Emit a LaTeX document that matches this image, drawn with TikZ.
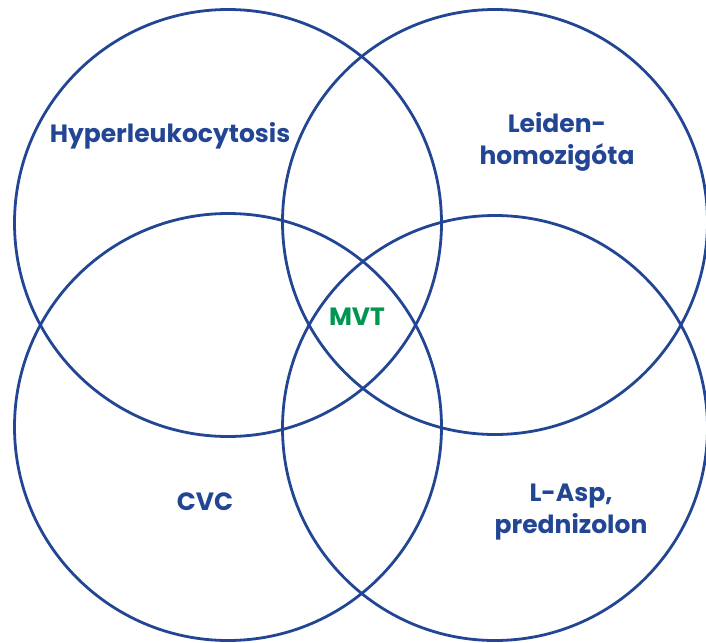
\documentclass[tikz,border=0pt]{standalone}
\usepackage{fontspec}
\setmainfont{Poppins}
\usetikzlibrary{positioning}
\definecolor{vennblue}{RGB}{34,70,148}
\definecolor{venngreen}{RGB}{0,150,80}

\begin{document}
\begin{tikzpicture}[x=1pt,y=-1pt,
    ring/.style={draw=vennblue, line width=2.8pt},
    label/.style={text=vennblue, font=\fontsize{25}{32}\selectfont\bfseries, align=center, inner sep=0pt}]
    \useasboundingbox (0,0) rectangle (706,642);
    \coordinate (tl) at (228,223);
    \coordinate (tr) at (495,222);
    \coordinate (bl) at (228,427);
    \coordinate (br) at (495,428);
    \draw[ring] (tl) circle (213.5);
    \draw[ring] (tr) circle (212.5);
    \draw[ring] (bl) circle (213.5);
    \draw[ring] (br) circle (212.5);
    \node(hyper) [label] at (170,136) {Hyperleukocytosis};
    \node(leiden) [label] at (557,142) {Leiden-\\homozigóta};
    \node(cvc) [label] at (205,502) {CVC};
    \node(lasp) [label] at (571,512) {L-Asp,\\prednizolon};
    \node(mvt) [label, text=venngreen] at (357,317) {MVT};
  \end{tikzpicture}
\end{document}
